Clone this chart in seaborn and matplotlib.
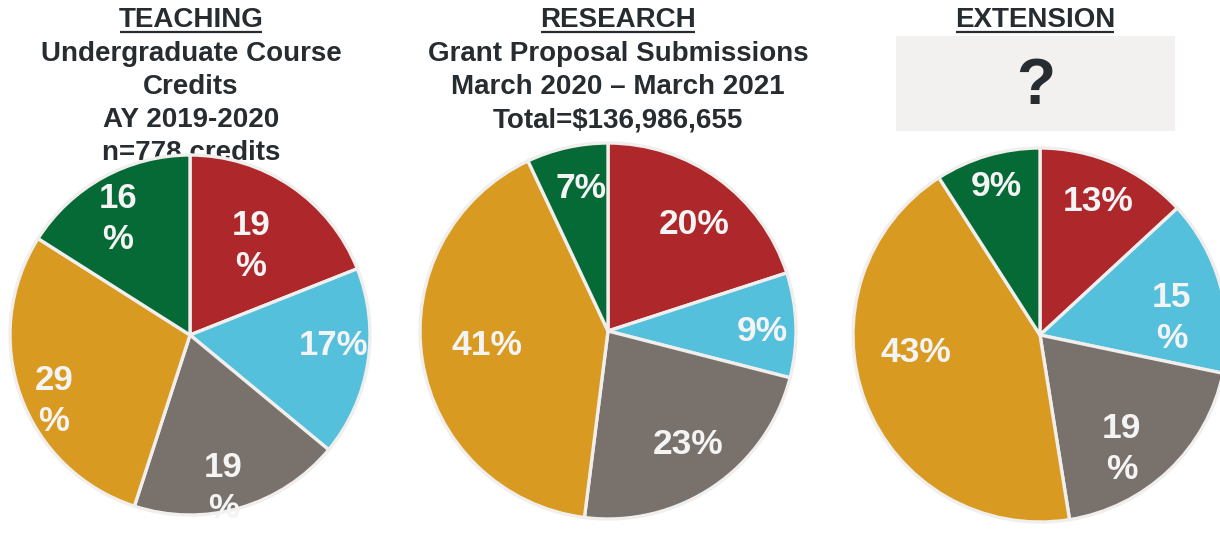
import numpy as np
import matplotlib
matplotlib.use("Agg")
import matplotlib.pyplot as plt
import seaborn as sns
from matplotlib.patches import Rectangle

sns.set_theme(style="white")
plt.rcParams['font.family'] = ['Liberation Sans', 'DejaVu Sans']

# slice order: clockwise from 12 o'clock
colors = ['#ad272b', '#55c0dc', '#79716c', '#d99a21', '#066a37']

teaching_vals = [19, 17, 19, 29, 16]
teaching_labels = ['19\n%', '17%', '19\n%', '29\n%', '16\n%']
research_vals = [20, 9, 23, 41, 7]
research_labels = ['20%', '9%', '23%', '41%', '7%']
extension_vals = [13, 15, 19, 43, 9]
extension_labels = ['13%', '15\n%', '19\n%', '43%', '9%']

titles = ['TEACHING', 'RESEARCH', 'EXTENSION']
subtitles = [['Undergraduate Course', 'Credits', 'AY 2019-2020', 'n=778 credits'],
             ['Grant Proposal Submissions', 'March 2020 \u2013 March 2021', 'Total=$136,986,655'],
             []]

# layout (pixels, y measured from top)
W, H = 1220, 534
centers = [(190, 335), (608, 331), (1040, 335)]
radii = [180, 188, 187]
label_dist = [[0.60, 0.80, 0.87, 0.84, 0.76],
              [0.73, 0.82, 0.74, 0.65, 0.77],
              [0.78, 0.71, 0.75, 0.67, 0.83]]
label_shift = [[0, 5, -4, 6, 3],
               [-3, -2, 1, -2, -2],
               [0, -8, -8, -13, 0]]
title_x = [191, 618, 1035]
label_size = [25, 25.5, 25.5]

text_col = '#262c2f'
fig = plt.figure(figsize=(W / 100, H / 100), dpi=100)
ax = fig.add_axes([0, 0, 1, 1])

pies = [(teaching_vals, teaching_labels), (research_vals, research_labels),
        (extension_vals, extension_labels)]

for i, (vals, labs) in enumerate(pies):
    cx, cy = centers[i]
    r = radii[i]
    wedges, _ = ax.pie(vals, colors=colors, startangle=90, counterclock=False,
                       center=(cx, H - cy), radius=r,
                       wedgeprops=dict(edgecolor='#f1efed', linewidth=2.4, zorder=3))
    for k, w in enumerate(wedges):
        ang = np.deg2rad((w.theta1 + w.theta2) / 2 + label_shift[i][k])
        d = label_dist[i][k] * r
        ax.text(cx + d * np.cos(ang), H - cy + d * np.sin(ang), labs[k],
                ha='center', va='center', color='#f4f4f4', fontsize=label_size[i],
                fontweight='bold', linespacing=1.3, zorder=5)

ax.set_xlim(0, W)
ax.set_ylim(0, H)
ax.set_aspect('equal')
ax.axis('off')

# titles with underline
fig.canvas.draw()
rend = fig.canvas.get_renderer()
inv = ax.transData.inverted()
for i, t in enumerate(titles):
    tx = ax.text(title_x[i], H - 20, t, ha='center', va='center', fontsize=20,
                 fontweight='bold', color=text_col, zorder=1)
    bb = tx.get_window_extent(renderer=rend)
    x0 = inv.transform((bb.x0, 0))[0]
    x1 = inv.transform((bb.x1, 0))[0]
    ax.plot([x0 + 1, x1 - 1], [H - 32, H - 32], color=text_col, lw=1.6,
            solid_capstyle='butt', zorder=1)
    for j, line in enumerate(subtitles[i]):
        ax.text(title_x[i], H - 54 - 33 * j, line, ha='center', va='center',
                fontsize=20, fontweight='bold', color=text_col, zorder=1)

# the unknown extension subtitle box
ax.add_patch(Rectangle((896, H - 131), 279, 95, facecolor='#f2f1f0', edgecolor='none', zorder=1))
ax.text(1036, H - 87, '?', ha='center', va='center', fontsize=46, fontweight='bold',
        color=text_col, zorder=2)

fig.savefig('out.png', dpi=100, facecolor='white')
